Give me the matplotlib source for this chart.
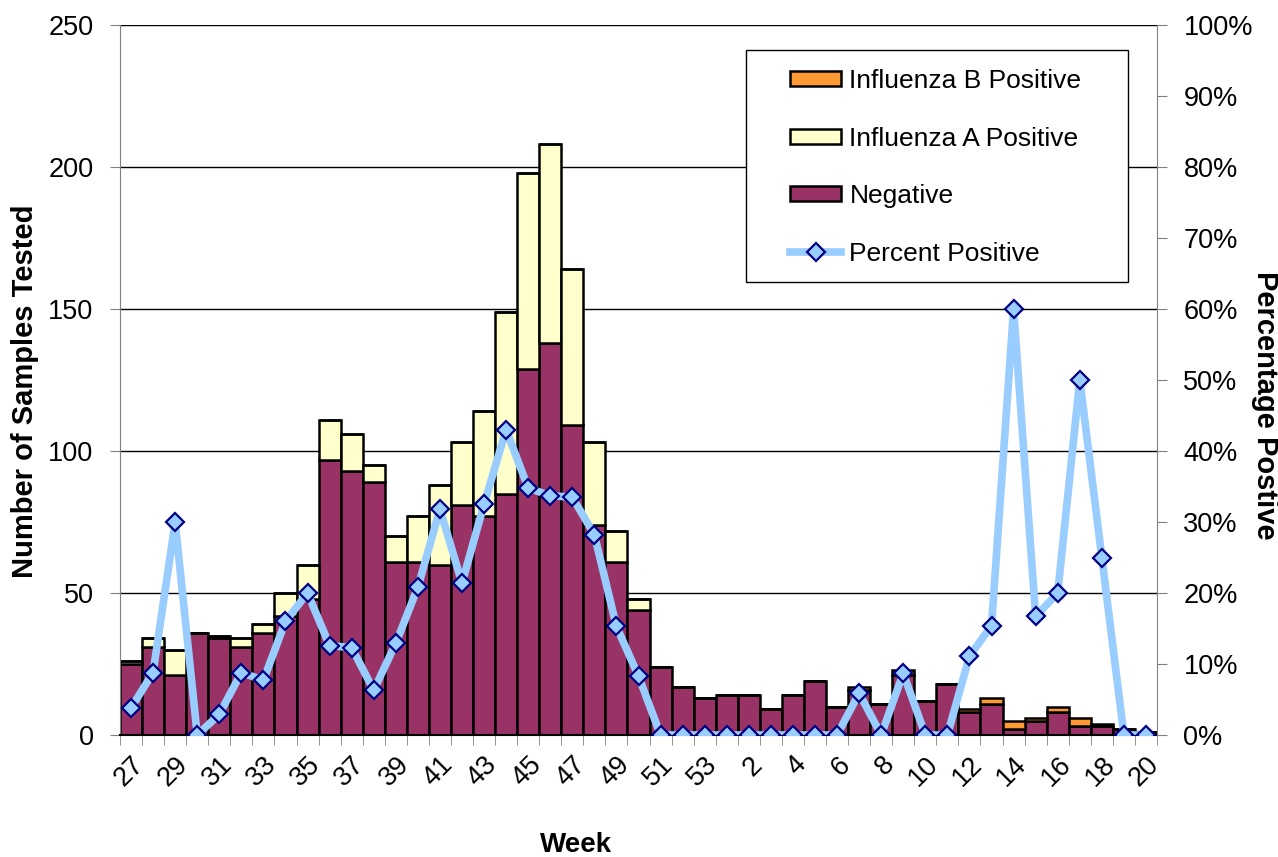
import matplotlib
matplotlib.use("Agg")
import matplotlib.pyplot as plt
import numpy as np
from matplotlib.ticker import PercentFormatter, MultipleLocator
from matplotlib.patches import Rectangle

plt.rcParams['font.family'] = ['Liberation Sans', 'DejaVu Sans']

# Week labels (season 27 -> 53, then 1 -> 20)
weeks = [str(w) for w in range(27, 54)] + [str(w) for w in range(1, 21)]

# Stacked bar values
negative = [25, 31, 21, 36, 34, 31, 36, 42, 48, 97, 93, 89, 61, 61, 60, 81,
            77, 85, 129, 138, 109, 74, 61, 44, 24, 17, 13, 14, 14, 9, 14, 19,
            10, 16, 11, 21, 12, 18, 8, 11, 2, 5, 8, 3, 3, 2, 1]
flu_a = [1, 3, 9, 0, 1, 3, 3, 8, 12, 14, 13, 6, 9, 16, 28, 22,
         37, 64, 69, 70, 55, 29, 11, 4, 0, 0, 0, 0, 0, 0, 0, 0,
         0, 0, 0, 0, 0, 0, 0, 0, 0, 0, 0, 0, 0, 0, 0]
flu_b = [0, 0, 0, 0, 0, 0, 0, 0, 0, 0, 0, 0, 0, 0, 0, 0,
         0, 0, 0, 0, 0, 0, 0, 0, 0, 0, 0, 0, 0, 0, 0, 0,
         0, 1, 0, 2, 0, 0, 1, 2, 3, 1, 2, 3, 1, 0, 0]

# Percent positive line (right axis)
pct_positive = [3.8, 8.8, 30, 0, 2.9, 8.8, 7.7, 16, 20, 12.6, 12.3, 6.3,
                12.9, 20.8, 31.8, 21.4, 32.5, 43, 34.8, 33.7, 33.5, 28.2, 15.3, 8.3,
                0, 0, 0, 0, 0, 0, 0, 0, 0, 5.9, 0, 8.7, 0, 0, 11.1, 15.4,
                60, 16.7, 20, 50, 25, 0, 0]

x = np.arange(len(weeks))
neg = np.array(negative)
a = np.array(flu_a)
b = np.array(flu_b)

W, H = 1278, 857
fig = plt.figure(figsize=(W / 100, H / 100), dpi=100)
ax = fig.add_axes([120 / W, 1 - 735 / H, 1037 / W, 710 / H])

bar_kw = dict(width=1.0, edgecolor='black', linewidth=1.8, zorder=2)
h_neg = ax.bar(x, neg, color='#993366', **bar_kw)
h_a = ax.bar(x, a, bottom=neg, color='#FFFFCC', **bar_kw)
h_b = ax.bar(x, b, bottom=neg + a, color='#FF9933', **bar_kw)

ax.set_xlim(-0.5, len(weeks) - 0.5)
ax.set_ylim(0, 250)
ax.yaxis.set_major_locator(MultipleLocator(50))
ax.grid(axis='y', color='black', linewidth=1.0, zorder=0)
ax.set_axisbelow(True)

# labels on every other week, tick marks between categories
ax.set_xticks(x[::2])
ax.set_xticklabels(weeks[::2], rotation=45, ha='right', va='top',
                   rotation_mode='anchor', fontsize=19.5)
ax.set_xticks(np.arange(len(weeks) + 1) - 0.5, minor=True)
ax.tick_params(axis='x', which='major', length=0, pad=12)
ax.tick_params(axis='x', which='minor', length=7, color='#808080')
ax.tick_params(axis='y', labelsize=19.5, length=7, color='#808080', pad=12)

for s in ['top', 'right']:
    ax.spines[s].set_visible(False)
ax.spines['left'].set_color('#808080')
ax.spines['bottom'].set_color('black')
ax.spines['bottom'].set_linewidth(1.5)

ax2 = ax.twinx()
h_line, = ax2.plot(x, pct_positive, color='#99CCFF', linewidth=5.5,
                   marker='D', markersize=9, markerfacecolor='#99CCFF',
                   markeredgecolor='#000080', markeredgewidth=1.6, zorder=3)
ax2.set_ylim(0, 100)
ax2.yaxis.set_major_locator(MultipleLocator(10))
ax2.yaxis.set_major_formatter(PercentFormatter(decimals=0))
ax2.tick_params(axis='y', labelsize=19.5, length=7, color='#808080', pad=12)
for s in ['top', 'left', 'bottom']:
    ax2.spines[s].set_visible(False)
ax2.spines['right'].set_color('#808080')

# axis titles
fig.text(25 / W, 1 - 391 / H, 'Number of Samples Tested', rotation=90,
         ha='center', va='center', fontsize=21, fontweight='bold')
fig.text(1265 / W, 1 - 405 / H, 'Percentage Postive', rotation=270,
         ha='center', va='center', fontsize=21, fontweight='bold')
fig.text(576 / W, 1 - 845 / H, 'Week', ha='center', va='center',
         fontsize=20, fontweight='bold')

# legend box
fig.patches.append(Rectangle((746 / W, 1 - 282 / H), (1128 - 746) / W, 232 / H,
                             transform=fig.transFigure, facecolor='white',
                             edgecolor='black', linewidth=1.0, zorder=4))
leg = fig.legend([h_b, h_a, h_neg, h_line],
                 ['Influenza B Positive', 'Influenza A Positive', 'Negative', 'Percent Positive'],
                 loc='upper left', bbox_to_anchor=(790 / W, 1 - 69 / H),
                 fontsize=19, frameon=False, labelspacing=1.27,
                 handlelength=1.95, handleheight=0.5, handletextpad=0.3,
                 borderpad=0, borderaxespad=0)
leg.set_zorder(5)

fig.savefig('out.png', dpi=100)
